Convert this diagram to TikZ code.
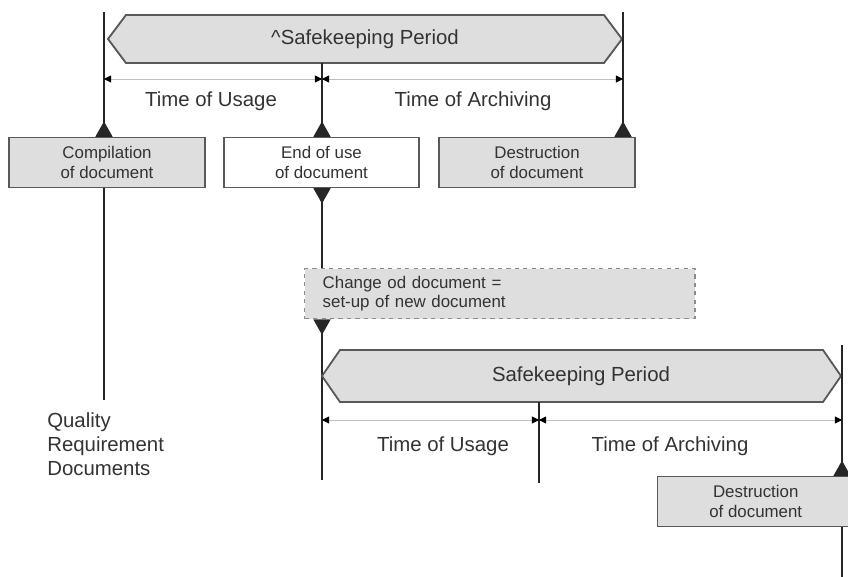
\documentclass[tikz,border=0pt]{standalone}
\usepackage{fontspec}
\setmainfont{Liberation Sans}
\usetikzlibrary{arrows.meta,positioning}

\begin{document}
\begin{tikzpicture}[x=0.025cm,y=-0.025cm,line join=miter,
  every node/.style={inner sep=0pt,text=black!80},
  event/.style={draw=black!65,line width=1pt,fill=black!13,align=center,
    minimum height=1.25cm,font=\fontsize{12}{14}\selectfont},
  period/.style={draw=black!65,line width=1.3pt,fill=black!13},
  phase/.style={font=\fontsize{14.5}{17}\selectfont},
  life/.style={draw=black!85,line width=1.2pt},
  pin/.style={life,-{Triangle[length=11pt,width=12pt,reversed]}},
  drop/.style={life,{Triangle[length=11pt,width=12pt,reversed]}-},
  span/.style={draw=black!25,line width=0.6pt,
    {Triangle[length=5pt,width=5pt,color=black]}-{Triangle[length=5pt,width=5pt,color=black]}}]
  \useasboundingbox (0,0) rectangle (848,577);
  \def\tp{18}
  % first period
  \draw[period] (108,39) -- (108+\tp,15) -- (622-\tp,15) -- (622,39) -- (622-\tp,63) -- (108+\tp,63) -- cycle;
  \node[phase] (sp1) at (365,39) {\textasciicircum Safekeeping Period};
  \node[event] (comp) at (107,162.5) [minimum width=4.9cm] {Compilation\\of document};
  \node[event,fill=white] (endu) at (321.5,162.5) [minimum width=4.875cm] {End of use\\of document};
  \node[event] (dest) at (537,162.5) [minimum width=4.9cm] {Destruction\\of document};
  \coordinate (a1) at (104,12);
  \coordinate (a2) at (322,63);
  \coordinate (a3) at (623,12);
  \draw[pin] (a1) -- (a1 |- comp.north);
  \draw[pin] (a2) -- (a2 |- endu.north);
  \draw[pin] (a3) -- (a3 |- dest.north);
  \draw[span] (104,79) coordinate (u1) -- (322,79) coordinate (u2);
  \draw[span] (u2) -- (623,79);
  \node[phase] (use1) at (211,101) {Time of Usage};
  \node[phase] (arc1) at (473,101) {Time of Archiving};
  \coordinate (a1end) at (104,400);
  \draw[life] (a1 |- comp.south) -- (a1end);
  \node[phase,align=left,anchor=west] (qrd) at (47,444) {Quality\\Requirement\\Documents};
  % change of document
  \node[event,dashed,draw=black!45,anchor=north west,minimum width=9.75cm,
    text width=8.85cm,align=left,inner xsep=0.45cm] (chg) at (304,268)
    {Change od document =\\set-up of new document};
  \draw[drop] (a2 |- endu.south) -- (a2 |- chg.north);
  \coordinate (b1) at (322,480);
  \draw[drop] (a2 |- chg.south) -- (b1);
  % second period
  \draw[period] (322,376) -- (322+\tp,350) -- (841-\tp,350) -- (841,376) -- (841-\tp,402) -- (322+\tp,402) -- cycle;
  \node[phase] (sp2) at (581,376) {Safekeeping Period};
  \coordinate (b2) at (539,402);
  \draw[life] (b2) -- (539,483);
  \coordinate (b3) at (842,345);
  \node[event,anchor=north west,minimum width=4.9cm] (dest2) at (657,476) {Destruction\\of document};
  \draw[pin] (b3) -- (b3 |- dest2.north);
  \draw[life] (b3 |- dest2.south) -- (842,577);
  \draw[span] (322,420) -- (539,420) coordinate (v2);
  \draw[span] (v2) -- (842,420);
  \node[phase] (use2) at (443,446) {Time of Usage};
  \node[phase] (arc2) at (670,446) {Time of Archiving};
\end{tikzpicture}
\end{document}
